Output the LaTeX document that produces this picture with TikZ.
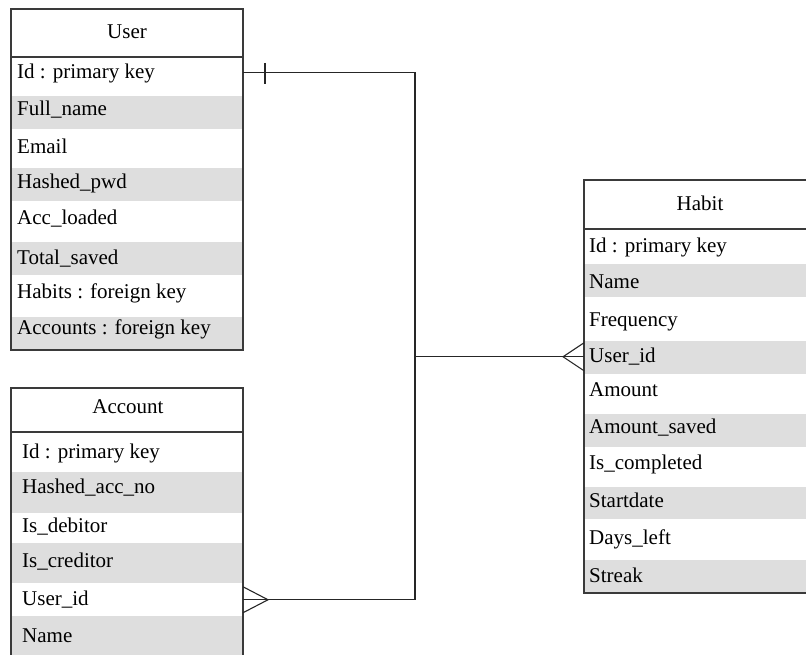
\documentclass[tikz,border=0pt]{standalone}
\usepackage{fontspec}
\setmainfont{Liberation Serif}
\definecolor{shade}{HTML}{DEDEDE}
\definecolor{edge}{HTML}{3A3A3A}
\tikzset{
  tablebox/.style={draw=edge, line width=1.4pt, rectangle, inner sep=0pt, outer sep=0pt, anchor=north west},
  headline/.style={draw=edge, line width=1.4pt},
  band/.style={fill=shade},
  rowtext/.style={anchor=base west, inner sep=0pt, text height=15pt, text depth=4.5pt, font=\fontsize{21}{25}\selectfont},
  titletext/.style={anchor=base, inner sep=0pt, font=\fontsize{21}{25}\selectfont},
  conn/.style={draw=black!85, line width=1.1pt}
}
\begin{document}
\begin{tikzpicture}[x=1pt,y=-1pt]
\useasboundingbox (0,0) rectangle (806,654);
% shaded bands
\fill[band] (11,96) rectangle (243,129);
\fill[band] (11,168) rectangle (243,201);
\fill[band] (11,242) rectangle (243,275);
\fill[band] (11,317) rectangle (243,350);
\fill[band] (584,264) rectangle (810,297);
\fill[band] (584,341) rectangle (810,374);
\fill[band] (584,414) rectangle (810,447);
\fill[band] (584,487) rectangle (810,519);
\fill[band] (584,560) rectangle (810,593);
\fill[band] (11,472) rectangle (243,513);
\fill[band] (11,543) rectangle (243,583);
\fill[band] (11,616) rectangle (243,665);
% boxes
\node[tablebox, minimum width=232pt, minimum height=341pt] (user) at (11,9) {};
\node[tablebox, minimum width=232pt, minimum height=277pt] (account) at (11,388) {};
\node[tablebox, minimum width=230pt, minimum height=413pt] (habit) at (584,180) {};
\draw[headline] (11,57) -- (243,57);
\draw[headline] (11,432) -- (243,432);
\draw[headline] (584,229) -- (814,229);
% titles
\node[titletext] (usertitle) at (127,38) {User};
\node[titletext] (accounttitle) at (128,413) {Account};
\node[titletext] (habittitle) at (700,210) {Habit};
% user rows
\node[rowtext] (uid) at (17,78) {Id : primary key};
\node[rowtext] (ufull) at (17,115) {Full\_name};
\node[rowtext] (uemail) at (17,153) {Email};
\node[rowtext] (upwd) at (17,188) {Hashed\_pwd};
\node[rowtext] (uacc) at (17,224) {Acc\_loaded};
\node[rowtext] (utot) at (17,264) {Total\_saved};
\node[rowtext] (uhab) at (17,298) {Habits : foreign key};
\node[rowtext] (uaccs) at (17,334) {Accounts : foreign key};
% account rows
\node[rowtext] (aid) at (22,458) {Id : primary key};
\node[rowtext] (ahash) at (22,493) {Hashed\_acc\_no};
\node[rowtext] (adeb) at (22,532) {Is\_debitor};
\node[rowtext] (acred) at (22,567) {Is\_creditor};
\node[rowtext] (auid) at (22,605) {User\_id};
\node[rowtext] (aname) at (22,642) {Name};
% habit rows
\node[rowtext] (hid) at (589,252) {Id : primary key};
\node[rowtext] (hname) at (589,288) {Name};
\node[rowtext] (hfreq) at (589,326) {Frequency};
\node[rowtext] (huid) at (589,362) {User\_id};
\node[rowtext] (hamt) at (589,396) {Amount};
\node[rowtext] (hsaved) at (589,433) {Amount\_saved};
\node[rowtext] (hcomp) at (589,469) {Is\_completed};
\node[rowtext] (hstart) at (589,507) {Startdate};
\node[rowtext] (hdays) at (589,544) {Days\_left};
\node[rowtext] (hstreak) at (589,582) {Streak};
% connectors
\coordinate (bus) at (415,0);
\draw[conn] (user.east |- uid) -- (bus |- uid) -- (bus |- auid) -- (account.east |- auid);
\draw[conn] (bus |- huid) -- (habit.west |- huid);
% one mark
\draw[conn] (user.east |- uid) ++(22,-10) -- ++(0,21);
% crow's feet
\draw[conn] (account.east |- auid) ++(0,-13) -- ++(25,13) -- ++(-25,13);
\draw[conn] (habit.west |- huid) ++(0,-14) -- ++(-21,14) -- ++(21,14);
\end{tikzpicture}
\end{document}
